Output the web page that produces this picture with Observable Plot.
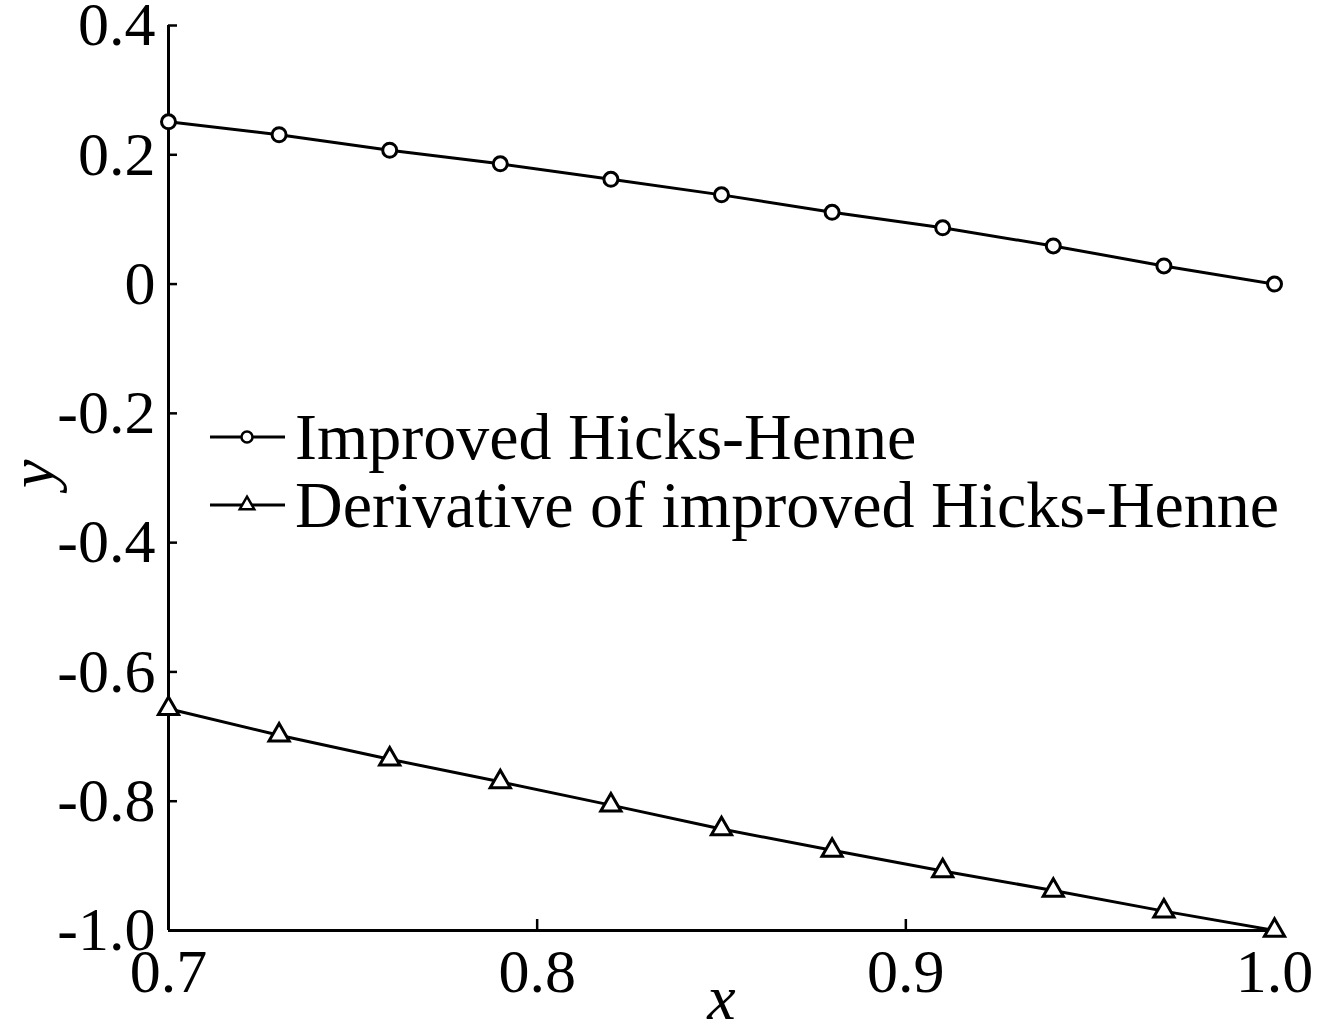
<!DOCTYPE html>
<html>
<head>
<meta charset="utf-8">
<script src="https://cdn.jsdelivr.net/npm/d3@7"></script>
<script src="https://cdn.jsdelivr.net/npm/@observablehq/plot@0.6"></script>
<style>
  html, body { margin: 0; padding: 0; background: #fff; }
  #wrap { position: relative; width: 1317px; height: 1025px; overflow: hidden; }
  #legend { position: absolute; left: 200px; top: 390px; }
</style>
</head>
<body>
<div id="wrap">
  <div id="chart"></div>
  <svg id="legend" width="1110" height="170"></svg>
</div>
<script>
// ---- data ----
const xValues = [0.70, 0.73, 0.76, 0.79, 0.82, 0.85, 0.88, 0.91, 0.94, 0.97, 1.00];
const hicksHenne = [0.251, 0.231, 0.207, 0.186, 0.162, 0.138, 0.111, 0.087, 0.059, 0.028, 0.000];
const derivative = [-0.657, -0.698, -0.735, -0.770, -0.806, -0.843, -0.876, -0.908, -0.938, -0.970, -1.000];
const seriesNames = ["Improved Hicks-Henne", "Derivative of improved Hicks-Henne"];
const xDomain = [0.7, 1.0];
const yDomain = [-1.0, 0.4];
const xTicks = [0.7, 0.8, 0.9, 1.0];
const xTickLabels = ["0.7", "0.8", "0.9", "1.0"];
const yTicks = [0.4, 0.2, 0, -0.2, -0.4, -0.6, -0.8, -1.0];
const yTickLabels = ["0.4", "0.2", "0", "-0.2", "-0.4", "-0.6", "-0.8", "-1.0"];
const xLabel = "x";
const yLabel = "y";

const rows1 = xValues.map((x, i) => ({x, y: hicksHenne[i]}));
const rows2 = xValues.map((x, i) => ({x, y: derivative[i]}));

const font = "'Liberation Serif', 'Times New Roman', serif";

const chart = Plot.plot({
  width: 1317,
  height: 1025,
  marginLeft: 168,
  marginRight: 43,
  marginTop: 25,
  marginBottom: 95,
  style: {fontFamily: font, background: "white", color: "black", overflow: "visible"},
  x: {domain: xDomain},
  y: {domain: yDomain},
  marks: [
    // tick labels
    Plot.axisY({ticks: yTicks, tickSize: 0, tickPadding: 13, fontSize: 62,
      tickFormat: d => yTickLabels[yTicks.indexOf(d)], label: null}),
    Plot.axisX({ticks: xTicks, tickSize: 0, tickPadding: 17, fontSize: 62,
      tickFormat: d => xTickLabels[xTicks.indexOf(d)], label: null}),
    // inward tick marks
    Plot.axisY({ticks: yTicks, tickSize: 9, dx: 9, text: null, strokeWidth: 2.5, label: null}),
    Plot.axisX({ticks: xTicks, tickSize: 11, dy: -11, text: null, strokeWidth: 2.5, label: null}),
    // axis lines
    Plot.ruleX([xDomain[0]], {stroke: "black", strokeWidth: 3}),
    Plot.ruleY([yDomain[0]], {stroke: "black", strokeWidth: 3}),
    // series
    Plot.line(rows1, {x: "x", y: "y", stroke: "black", strokeWidth: 3}),
    Plot.dot(rows1, {x: "x", y: "y", symbol: "circle", r: 7, stroke: "black", strokeWidth: 3, fill: "white"}),
    Plot.line(rows2, {x: "x", y: "y", stroke: "black", strokeWidth: 3}),
    Plot.dot(rows2, {x: "x", y: "y", symbol: "triangle", r: 7.5, stroke: "black", strokeWidth: 3, fill: "white"}),
    // axis titles
    Plot.text([xLabel], {frameAnchor: "bottom", dy: 88, text: d => d, fontSize: 64, fontStyle: "italic", fill: "black"}),
    Plot.text([yLabel], {frameAnchor: "left", dx: -136, dy: 10, rotate: -90, text: d => d, fontSize: 64, fontStyle: "italic", fill: "black"})
  ]
});
document.getElementById("chart").appendChild(chart);

// legend
const lg = d3.select("#legend");
const rowsY = [47, 115];
seriesNames.forEach((name, i) => {
  const g = lg.append("g").attr("transform", `translate(0,${rowsY[i]})`);
  g.append("line").attr("x1", 10).attr("x2", 85).attr("y1", 0).attr("y2", 0)
    .attr("stroke", "black").attr("stroke-width", 3);
  if (i === 0) {
    g.append("circle").attr("cx", 47).attr("cy", 0).attr("r", 5.5)
      .attr("fill", "white").attr("stroke", "black").attr("stroke-width", 2.5);
  } else {
    g.append("path").attr("d", d3.symbol(d3.symbolTriangle, 90)()).attr("transform", "translate(47,0)")
      .attr("fill", "white").attr("stroke", "black").attr("stroke-width", 2.5);
  }
  g.append("text").attr("x", 95).attr("y", 22).text(name)
    .attr("font-family", font).attr("font-size", 66).attr("fill", "black");
});
</script>
</body>
</html>
